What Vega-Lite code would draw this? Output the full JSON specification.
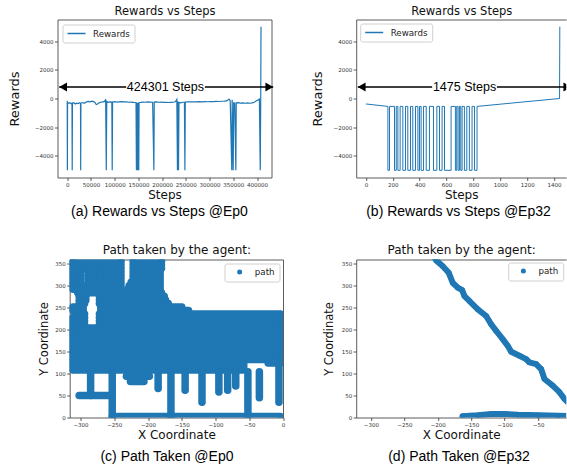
{
"$schema": "https://vega.github.io/schema/vega-lite/v6.json",
"background": "white",
"autosize": {"type": "pad"},
"padding": {"left": 8.5, "top": 5.5, "right": 0, "bottom": 0},
"columns": 2,
"bounds": "flush",
"spacing": {"row": 82, "column": 72.7},
"resolve": {"scale": {"color": "independent"}, "legend": {"color": "independent"}},
"datasets": {
"ra": [
{"step":0,"reward":-150},{"step":300,"reward":-5000},{"step":700,"reward":-280},{"step":3000,"reward":-330},{"step":5500,"reward":-290},{"step":8000,"reward":-360},{"step":10000,"reward":-320},{"step":10500,"reward":-5000},{"step":11000,"reward":-340},{"step":14000,"reward":-300},{"step":17000,"reward":-380},{"step":20000,"reward":-330},{"step":23000,"reward":-360},{"step":26000,"reward":-300},{"step":28000,"reward":-340},{"step":28400,"reward":-5000},{"step":28800,"reward":-320},{"step":32000,"reward":-280},{"step":36000,"reward":-330},{"step":40000,"reward":-250},{"step":44000,"reward":-200},{"step":48000,"reward":-230},{"step":52000,"reward":-180},{"step":56000,"reward":-220},{"step":59000,"reward":-300},{"step":61000,"reward":-420},{"step":64000,"reward":-380},{"step":67000,"reward":-300},{"step":71000,"reward":-260},{"step":75000,"reward":-230},{"step":79000,"reward":-200},{"step":81000,"reward":-60},{"step":82300,"reward":-5000},{"step":83300,"reward":-200},{"step":86000,"reward":-260},{"step":90000,"reward":-230},{"step":94000,"reward":-250},{"step":94800,"reward":-5000},{"step":95600,"reward":-240},{"step":100000,"reward":-220},{"step":105000,"reward":-250},{"step":110000,"reward":-230},{"step":115000,"reward":-220},{"step":120000,"reward":-240},{"step":125000,"reward":-230},{"step":130000,"reward":-260},{"step":135000,"reward":-250},{"step":140000,"reward":-270},{"step":145000,"reward":-280},{"step":145800,"reward":-5000},{"step":146600,"reward":-300},{"step":147200,"reward":-5000},{"step":147800,"reward":-290},{"step":148400,"reward":-5000},{"step":149000,"reward":-300},{"step":149600,"reward":-5000},{"step":150200,"reward":-290},{"step":150800,"reward":-5000},{"step":151400,"reward":-280},{"step":155000,"reward":-270},{"step":160000,"reward":-250},{"step":165000,"reward":-260},{"step":170000,"reward":-240},{"step":175000,"reward":-250},{"step":180000,"reward":-260},{"step":182600,"reward":-5000},{"step":183400,"reward":-250},{"step":188000,"reward":-240},{"step":193000,"reward":-260},{"step":198000,"reward":-250},{"step":203000,"reward":-270},{"step":208000,"reward":-260},{"step":213000,"reward":-280},{"step":218000,"reward":-270},{"step":223000,"reward":-260},{"step":228000,"reward":-230},{"step":231000,"reward":-60},{"step":232300,"reward":-5000},{"step":233300,"reward":-200},{"step":234500,"reward":-5000},{"step":235500,"reward":-280},{"step":239000,"reward":-300},{"step":243000,"reward":-260},{"step":247000,"reward":-250},{"step":248000,"reward":-5000},{"step":248800,"reward":-240},{"step":254000,"reward":-230},{"step":260000,"reward":-240},{"step":266000,"reward":-225},{"step":272000,"reward":-235},{"step":278000,"reward":-220},{"step":284000,"reward":-230},{"step":290000,"reward":-215},{"step":296000,"reward":-225},{"step":302000,"reward":-210},{"step":308000,"reward":-220},{"step":314000,"reward":-200},{"step":320000,"reward":-210},{"step":326000,"reward":-190},{"step":332000,"reward":-180},{"step":337000,"reward":-150},{"step":341000,"reward":-40},{"step":343500,"reward":-150},{"step":346800,"reward":-5000},{"step":347600,"reward":-80},{"step":349800,"reward":-5000},{"step":350800,"reward":-300},{"step":353000,"reward":-320},{"step":355400,"reward":-5000},{"step":356200,"reward":-300},{"step":360000,"reward":-290},{"step":365000,"reward":-320},{"step":370000,"reward":-300},{"step":375000,"reward":-330},{"step":380000,"reward":-310},{"step":385000,"reward":-330},{"step":390000,"reward":-300},{"step":394000,"reward":-260},{"step":398000,"reward":-180},{"step":402000,"reward":-100},{"step":405000,"reward":-40},{"step":406800,"reward":-5000},{"step":407800,"reward":-30},{"step":408400,"reward":5000}
],
"rb": [
{"i":0,"step":0,"reward":-380},{"i":1,"step":164,"reward":-550},{"i":2,"step":164,"reward":-5000},{"i":3,"step":176,"reward":-5000},{"i":4,"step":176,"reward":-550},{"i":5,"step":213,"reward":-550},{"i":6,"step":213,"reward":-5000},{"i":7,"step":226,"reward":-5000},{"i":8,"step":226,"reward":-550},{"i":9,"step":238,"reward":-550},{"i":10,"step":238,"reward":-5000},{"i":11,"step":255,"reward":-5000},{"i":12,"step":255,"reward":-550},{"i":13,"step":275,"reward":-550},{"i":14,"step":275,"reward":-5000},{"i":15,"step":295,"reward":-5000},{"i":16,"step":295,"reward":-550},{"i":17,"step":312,"reward":-550},{"i":18,"step":312,"reward":-5000},{"i":19,"step":332,"reward":-5000},{"i":20,"step":332,"reward":-550},{"i":21,"step":349,"reward":-550},{"i":22,"step":349,"reward":-5000},{"i":23,"step":369,"reward":-5000},{"i":24,"step":369,"reward":-550},{"i":25,"step":387,"reward":-550},{"i":26,"step":387,"reward":-5000},{"i":27,"step":399,"reward":-5000},{"i":28,"step":399,"reward":-550},{"i":29,"step":411,"reward":-550},{"i":30,"step":411,"reward":-5000},{"i":31,"step":429,"reward":-5000},{"i":32,"step":429,"reward":-550},{"i":33,"step":449,"reward":-550},{"i":34,"step":449,"reward":-5000},{"i":35,"step":473,"reward":-5000},{"i":36,"step":473,"reward":-550},{"i":37,"step":503,"reward":-550},{"i":38,"step":503,"reward":-5000},{"i":39,"step":528,"reward":-5000},{"i":40,"step":528,"reward":-550},{"i":41,"step":548,"reward":-550},{"i":42,"step":548,"reward":-5000},{"i":43,"step":567,"reward":-5000},{"i":44,"step":567,"reward":-550},{"i":45,"step":585,"reward":-550},{"i":46,"step":585,"reward":-5000},{"i":47,"step":634,"reward":-5000},{"i":48,"step":634,"reward":-550},{"i":49,"step":666,"reward":-550},{"i":50,"step":666,"reward":-5000},{"i":51,"step":676,"reward":-5000},{"i":52,"step":676,"reward":-550},{"i":53,"step":686,"reward":-550},{"i":54,"step":686,"reward":-5000},{"i":55,"step":696,"reward":-5000},{"i":56,"step":696,"reward":-550},{"i":57,"step":706,"reward":-550},{"i":58,"step":706,"reward":-5000},{"i":59,"step":716,"reward":-5000},{"i":60,"step":716,"reward":-550},{"i":61,"step":733,"reward":-550},{"i":62,"step":733,"reward":-5000},{"i":63,"step":751,"reward":-5000},{"i":64,"step":751,"reward":-550},{"i":65,"step":770,"reward":-550},{"i":66,"step":770,"reward":-5000},{"i":67,"step":790,"reward":-5000},{"i":68,"step":790,"reward":-550},{"i":69,"step":808,"reward":-550},{"i":70,"step":808,"reward":-5000},{"i":71,"step":827,"reward":-5000},{"i":72,"step":827,"reward":-550},{"i":73,"step":1441,"reward":0},{"i":74,"step":1443,"reward":5000}
],
"arA": [{"x0":-16900,"g0":124200,"g1":290100,"x1":434100,"mid":207000,"label":"424301 Steps","y":800}],
"arB": [{"x0":-60,"g0":493,"g1":975,"x1":1528,"mid":734,"label":"1475 Steps","y":800}],
"pc": [
{"s":1,"i":0,"x":-311,"y":356},{"s":1,"i":1,"x":-240,"y":356},
{"s":2,"i":0,"x":-222,"y":356},{"s":2,"i":1,"x":-180,"y":356},
{"s":3,"i":0,"x":-311,"y":348},{"s":3,"i":1,"x":-240,"y":348},
{"s":4,"i":0,"x":-222,"y":348},{"s":4,"i":1,"x":-180,"y":348},
{"s":5,"i":0,"x":-311,"y":340},{"s":5,"i":1,"x":-240,"y":340},
{"s":6,"i":0,"x":-222,"y":340},{"s":6,"i":1,"x":-180,"y":340},
{"s":7,"i":0,"x":-311,"y":332},{"s":7,"i":1,"x":-300,"y":332},
{"s":8,"i":0,"x":-289,"y":332},{"s":8,"i":1,"x":-272,"y":332},
{"s":9,"i":0,"x":-262,"y":332},{"s":9,"i":1,"x":-240,"y":332},
{"s":10,"i":0,"x":-222,"y":332},{"s":10,"i":1,"x":-182,"y":332},
{"s":11,"i":0,"x":-311,"y":324},{"s":11,"i":1,"x":-300,"y":324},
{"s":12,"i":0,"x":-289,"y":324},{"s":12,"i":1,"x":-272,"y":324},
{"s":13,"i":0,"x":-262,"y":324},{"s":13,"i":1,"x":-240,"y":324},
{"s":14,"i":0,"x":-222,"y":324},{"s":14,"i":1,"x":-182,"y":324},
{"s":15,"i":0,"x":-311,"y":316},{"s":15,"i":1,"x":-300,"y":316},
{"s":16,"i":0,"x":-289,"y":316},{"s":16,"i":1,"x":-272,"y":316},
{"s":17,"i":0,"x":-262,"y":316},{"s":17,"i":1,"x":-240,"y":316},
{"s":18,"i":0,"x":-222,"y":316},{"s":18,"i":1,"x":-182,"y":316},
{"s":19,"i":0,"x":-311,"y":308},{"s":19,"i":1,"x":-300,"y":308},
{"s":20,"i":0,"x":-289,"y":308},{"s":20,"i":1,"x":-240,"y":308},
{"s":21,"i":0,"x":-225,"y":308},{"s":21,"i":1,"x":-182,"y":308},
{"s":22,"i":0,"x":-311,"y":300},{"s":22,"i":1,"x":-240,"y":300},
{"s":23,"i":0,"x":-228,"y":300},{"s":23,"i":1,"x":-182,"y":300},
{"s":24,"i":0,"x":-311,"y":292},{"s":24,"i":1,"x":-240,"y":292},
{"s":25,"i":0,"x":-230,"y":292},{"s":25,"i":1,"x":-182,"y":292},
{"s":26,"i":0,"x":-304,"y":284},{"s":26,"i":1,"x":-240,"y":284},
{"s":27,"i":0,"x":-232,"y":284},{"s":27,"i":1,"x":-180,"y":284},
{"s":28,"i":0,"x":-302,"y":276},{"s":28,"i":1,"x":-292,"y":276},
{"s":29,"i":0,"x":-272,"y":276},{"s":29,"i":1,"x":-176,"y":276},
{"s":30,"i":0,"x":-302,"y":268},{"s":30,"i":1,"x":-292,"y":268},
{"s":31,"i":0,"x":-272,"y":268},{"s":31,"i":1,"x":-174,"y":268},
{"s":32,"i":0,"x":-302,"y":260},{"s":32,"i":1,"x":-294,"y":260},
{"s":33,"i":0,"x":-272,"y":260},{"s":33,"i":1,"x":-170,"y":260},
{"s":34,"i":0,"x":-311,"y":252},{"s":34,"i":1,"x":-296,"y":252},
{"s":35,"i":0,"x":-270,"y":252},{"s":35,"i":1,"x":-150,"y":252},
{"s":36,"i":0,"x":-311,"y":244},{"s":36,"i":1,"x":-296,"y":244},
{"s":37,"i":0,"x":-270,"y":244},{"s":37,"i":1,"x":-140,"y":244},
{"s":38,"i":0,"x":-302,"y":236},{"s":38,"i":1,"x":-294,"y":236},
{"s":39,"i":0,"x":-272,"y":236},{"s":39,"i":1,"x":-4,"y":236},
{"s":40,"i":0,"x":-311,"y":228},{"s":40,"i":1,"x":-294,"y":228},
{"s":41,"i":0,"x":-272,"y":228},{"s":41,"i":1,"x":-4,"y":228},
{"s":42,"i":0,"x":-311,"y":220},{"s":42,"i":1,"x":-294,"y":220},
{"s":43,"i":0,"x":-272,"y":220},{"s":43,"i":1,"x":-4,"y":220},
{"s":44,"i":0,"x":-311,"y":212},{"s":44,"i":1,"x":-294,"y":212},
{"s":45,"i":0,"x":-272,"y":212},{"s":45,"i":1,"x":-4,"y":212},
{"s":46,"i":0,"x":-311,"y":204},{"s":46,"i":1,"x":-4,"y":204},
{"s":47,"i":0,"x":-311,"y":196},{"s":47,"i":1,"x":-4,"y":196},
{"s":48,"i":0,"x":-311,"y":188},{"s":48,"i":1,"x":-4,"y":188},
{"s":49,"i":0,"x":-311,"y":180},{"s":49,"i":1,"x":-4,"y":180},
{"s":50,"i":0,"x":-311,"y":172},{"s":50,"i":1,"x":-4,"y":172},
{"s":51,"i":0,"x":-311,"y":164},{"s":51,"i":1,"x":-4,"y":164},
{"s":52,"i":0,"x":-311,"y":156},{"s":52,"i":1,"x":-4,"y":156},
{"s":53,"i":0,"x":-311,"y":148},{"s":53,"i":1,"x":-4,"y":148},
{"s":54,"i":0,"x":-311,"y":140},{"s":54,"i":1,"x":-4,"y":140},
{"s":55,"i":0,"x":-311,"y":132},{"s":55,"i":1,"x":-4,"y":132},
{"s":56,"i":0,"x":-311,"y":124},{"s":56,"i":1,"x":-58,"y":124},
{"s":57,"i":0,"x":-22,"y":124},{"s":57,"i":1,"x":-4,"y":124},
{"s":58,"i":0,"x":-311,"y":116},{"s":58,"i":1,"x":-58,"y":116},
{"s":59,"i":0,"x":-311,"y":108},{"s":59,"i":1,"x":-60,"y":108},
{"s":60,"i":0,"x":-302,"y":50},{"s":60,"i":1,"x":-258,"y":50},
{"s":61,"i":0,"x":-285,"y":104},{"s":61,"i":1,"x":-285,"y":50},
{"s":62,"i":0,"x":-253,"y":104},{"s":62,"i":1,"x":-253,"y":2},
{"s":63,"i":0,"x":-253,"y":2},{"s":63,"i":1,"x":-4,"y":2},
{"s":64,"i":0,"x":-166,"y":104},{"s":64,"i":1,"x":-166,"y":2},
{"s":65,"i":0,"x":-232,"y":94},{"s":65,"i":1,"x":-198,"y":94},
{"s":66,"i":0,"x":-226,"y":82},{"s":66,"i":1,"x":-206,"y":82},
{"s":67,"i":0,"x":-185,"y":104},{"s":67,"i":1,"x":-185,"y":66},
{"s":68,"i":0,"x":-145,"y":104},{"s":68,"i":1,"x":-145,"y":62},
{"s":69,"i":0,"x":-120,"y":104},{"s":69,"i":1,"x":-120,"y":35},
{"s":70,"i":0,"x":-95,"y":104},{"s":70,"i":1,"x":-95,"y":58},
{"s":71,"i":0,"x":-82,"y":104},{"s":71,"i":1,"x":-82,"y":62},
{"s":72,"i":0,"x":-52,"y":104},{"s":72,"i":1,"x":-52,"y":2},
{"s":73,"i":0,"x":-35,"y":104},{"s":73,"i":1,"x":-35,"y":45},
{"s":74,"i":0,"x":-6,"y":116},{"s":74,"i":1,"x":-6,"y":35},
{"s":75,"i":0,"x":-70,"y":104},{"s":75,"i":1,"x":-70,"y":72}
],
"pd": [
{"s":1,"i":0,"x":-205,"y":365},{"s":1,"i":1,"x":-202.4,"y":358},{"s":1,"i":2,"x":-192.5,"y":344.7},{"s":1,"i":3,"x":-183.6,"y":329.7},{"s":1,"i":4,"x":-177.6,"y":307},{"s":1,"i":5,"x":-170.1,"y":295.7},{"s":1,"i":6,"x":-163.6,"y":290.3},{"s":1,"i":7,"x":-160.1,"y":276.6},{"s":1,"i":8,"x":-152.6,"y":265.3},{"s":1,"i":9,"x":-140.2,"y":246.5},{"s":1,"i":10,"x":-127.7,"y":231.3},{"s":1,"i":11,"x":-120.2,"y":212.5},{"s":1,"i":12,"x":-112.7,"y":197.3},{"s":1,"i":13,"x":-102.9,"y":178.5},{"s":1,"i":14,"x":-95.4,"y":163.3},{"s":1,"i":15,"x":-90.3,"y":149.7},{"s":1,"i":16,"x":-77.9,"y":140.6},{"s":1,"i":17,"x":-67.9,"y":133.1},{"s":1,"i":18,"x":-63,"y":125.6},{"s":1,"i":19,"x":-52.9,"y":121.8},{"s":1,"i":20,"x":-45.5,"y":110.4},{"s":1,"i":21,"x":-40.5,"y":87.8},{"s":1,"i":22,"x":-28.1,"y":72.6},{"s":1,"i":23,"x":-18.1,"y":57.6},{"s":1,"i":24,"x":-10.6,"y":42.4},{"s":1,"i":25,"x":-5.7,"y":34.9},{"s":1,"i":26,"x":2,"y":30},
{"s":2,"i":0,"x":-163,"y":3},{"s":2,"i":1,"x":-140,"y":5},{"s":2,"i":2,"x":-120,"y":8},{"s":2,"i":3,"x":-100,"y":8},{"s":2,"i":4,"x":-80,"y":6},{"s":2,"i":5,"x":-50,"y":5},{"s":2,"i":6,"x":-20,"y":4},{"s":2,"i":7,"x":0,"y":3}
]
},
"concat": [
{
"width": 214, "height": 158,
"title": {"text": "(a) Rewards vs Steps @Ep0", "orient": "bottom", "anchor": "middle", "frame": "group", "dx": -5, "offset": 4},
"resolve": {"axis": {"x": "independent", "y": "independent"}},
"layer": [
{"data": {"name": "ra"},
 "mark": {"type": "line", "strokeWidth": 1.2, "clip": true},
 "encoding": {
  "x": {"field": "step", "type": "quantitative", "scale": {"domain": [-20500, 430500], "nice": false, "zero": false},
        "axis": {"orient": "bottom", "values": [0,50000,100000,150000,200000,250000,300000,350000,400000], "format": "d", "title": "Steps", "titleFontSize": 12, "titlePadding": 2, "labelFlush": false, "labelOverlap": false}},
  "y": {"field": "reward", "type": "quantitative", "scale": {"domain": [-5500, 5500], "nice": false, "zero": false},
        "axis": {"orient": "left", "values": [-4000,-2000,0,2000,4000], "format": "d", "title": "Rewards", "titleFontSize": 13, "titlePadding": 12.5}},
  "color": {"datum": "Rewards", "scale": {"range": ["#1f77b4"]},
        "legend": {"title": null, "orient": "top-left", "offset": 4.5, "padding": 4, "symbolType": "stroke", "symbolSize": 324, "symbolStrokeWidth": 1.5, "clipHeight": 10, "labelOffset": 6.5, "labelFontSize": 8.7, "strokeColor": "#d0d0d0", "fillColor": "#ffffff", "cornerRadius": 2}}
 }},
{"data": {"name": "arA"},
 "mark": {"type": "rule", "color": "#000", "strokeWidth": 1.5, "clip": false},
 "encoding": {
  "x": {"field": "x0", "type": "quantitative", "axis": {"orient": "top", "labels": false, "ticks": false, "title": "Rewards vs Steps", "titleFontSize": 11.5, "titlePadding": 3}},
  "x2": {"field": "g0"},
  "y": {"field": "y", "type": "quantitative", "axis": {"orient": "right", "labels": false, "ticks": false, "title": null}}
 }},
{"data": {"name": "arA"},
 "mark": {"type": "rule", "color": "#000", "strokeWidth": 1.5, "clip": false},
 "encoding": {
  "x": {"field": "g1", "type": "quantitative", "axis": null},
  "x2": {"field": "x1"},
  "y": {"field": "y", "type": "quantitative", "axis": null}
 }},
{"data": {"name": "arA"},
 "mark": {"type": "point", "shape": "triangle-left", "filled": true, "color": "#000", "opacity": 1, "size": 80, "xOffset": 3.9, "clip": false},
 "encoding": {
  "x": {"field": "x0", "type": "quantitative", "axis": null},
  "y": {"field": "y", "type": "quantitative", "axis": null}
 }},
{"data": {"name": "arA"},
 "mark": {"type": "point", "shape": "triangle-right", "filled": true, "color": "#000", "opacity": 1, "size": 80, "xOffset": -3.9, "clip": false},
 "encoding": {
  "x": {"field": "x1", "type": "quantitative", "axis": null},
  "y": {"field": "y", "type": "quantitative", "axis": null}
 }},
{"data": {"name": "arA"},
 "mark": {"type": "text", "font": "Liberation Sans", "fontSize": 12.5, "color": "#000", "baseline": "middle", "align": "center"},
 "encoding": {
  "x": {"field": "mid", "type": "quantitative", "axis": null},
  "y": {"field": "y", "type": "quantitative", "axis": null},
  "text": {"field": "label"}
 }}
]
},
{
"width": 210, "height": 158,
"title": {"text": "(b) Rewards vs Steps @Ep32", "orient": "bottom", "anchor": "middle", "frame": "group", "dx": -2.7, "offset": 4},
"resolve": {"axis": {"x": "independent", "y": "independent"}},
"layer": [
{"data": {"name": "rb"},
 "mark": {"type": "line", "strokeWidth": 1, "clip": true},
 "encoding": {
  "x": {"field": "step", "type": "quantitative", "scale": {"domain": [-72, 1490.5], "nice": false, "zero": false},
        "axis": {"orient": "bottom", "values": [0,200,400,600,800,1000,1200,1400], "format": "d", "title": "Steps", "titleFontSize": 12, "titlePadding": 2, "labelFlush": false, "labelOverlap": false}},
  "y": {"field": "reward", "type": "quantitative", "scale": {"domain": [-5500, 5500], "nice": false, "zero": false},
        "axis": {"orient": "left", "values": [-4000,-2000,0,2000,4000], "format": "d", "title": "Rewards", "titleFontSize": 13, "titlePadding": 8.5}},
  "order": {"field": "i", "type": "quantitative"},
  "color": {"datum": "Rewards", "scale": {"range": ["#1f77b4"]},
        "legend": {"title": null, "orient": "top-left", "offset": 4, "padding": 4, "symbolType": "stroke", "symbolSize": 324, "symbolStrokeWidth": 1.5, "clipHeight": 10, "labelOffset": 6.5, "labelFontSize": 8.7, "strokeColor": "#d0d0d0", "fillColor": "#ffffff", "cornerRadius": 2}}
 }},
{"data": {"name": "arB"},
 "mark": {"type": "rule", "color": "#000", "strokeWidth": 1.5, "clip": true},
 "encoding": {
  "x": {"field": "x0", "type": "quantitative", "axis": {"orient": "top", "labels": false, "ticks": false, "title": "Rewards vs Steps", "titleFontSize": 11.5, "titlePadding": 3}},
  "x2": {"field": "g0"},
  "y": {"field": "y", "type": "quantitative", "axis": null}
 }},
{"data": {"name": "arB"},
 "mark": {"type": "rule", "color": "#000", "strokeWidth": 1.5, "clip": true},
 "encoding": {
  "x": {"field": "g1", "type": "quantitative", "axis": null},
  "x2": {"field": "x1"},
  "y": {"field": "y", "type": "quantitative", "axis": null}
 }},
{"data": {"name": "arB"},
 "mark": {"type": "point", "shape": "triangle-left", "filled": true, "color": "#000", "opacity": 1, "size": 80, "xOffset": 3.9, "clip": true},
 "encoding": {
  "x": {"field": "x0", "type": "quantitative", "axis": null},
  "y": {"field": "y", "type": "quantitative", "axis": null}
 }},
{"data": {"name": "arB"},
 "mark": {"type": "point", "shape": "triangle-right", "filled": true, "color": "#000", "opacity": 1, "size": 80, "xOffset": -3.9, "clip": true},
 "encoding": {
  "x": {"field": "x1", "type": "quantitative", "axis": null},
  "y": {"field": "y", "type": "quantitative", "axis": null}
 }},
{"data": {"name": "arB"},
 "mark": {"type": "text", "font": "Liberation Sans", "fontSize": 12.5, "color": "#000", "baseline": "middle", "align": "center"},
 "encoding": {
  "x": {"field": "mid", "type": "quantitative", "axis": null},
  "y": {"field": "y", "type": "quantitative", "axis": null},
  "text": {"field": "label"}
 }}
]
},
{
"width": 225.5, "height": 158,
"title": {"text": "(c) Path Taken @Ep0", "orient": "bottom", "anchor": "middle", "frame": "group", "dx": -3.3, "offset": 9},
"resolve": {"axis": {"x": "independent", "y": "independent"}},
"layer": [
{"data": {"name": "pc"},
 "mark": {"type": "line", "color": "#1f77b4", "strokeWidth": 7.5, "strokeCap": "round", "strokeJoin": "round", "opacity": 1, "clip": true},
 "encoding": {
  "x": {"field": "x", "type": "quantitative", "scale": {"domain": [-316, 0], "range": [12.2, 225.5], "nice": false, "zero": false},
        "axis": {"orient": "bottom", "values": [-300,-250,-200,-150,-100,-50,0], "title": "X Coordinate", "titleFontSize": 12, "titlePadding": 2, "labelFlush": false, "labelOverlap": false}},
  "y": {"field": "y", "type": "quantitative", "scale": {"domain": [0, 360], "nice": false, "zero": false},
        "axis": {"orient": "left", "offset": -12.2, "values": [0,50,100,150,200,250,300,350], "title": "Y Coordinate", "titleFontSize": 11.5, "titlePadding": 5}},
  "detail": {"field": "s", "type": "nominal"},
  "order": {"field": "i", "type": "quantitative"}
 }},
{"data": {"name": "pc"},
 "mark": {"type": "point", "filled": true, "size": 40, "opacity": 1, "clip": true},
 "encoding": {
  "x": {"field": "x", "type": "quantitative", "axis": {"orient": "top", "labels": false, "ticks": false, "title": "Path taken by the agent:", "titleFontSize": 12, "titlePadding": 3}},
  "y": {"field": "y", "type": "quantitative", "axis": {"orient": "right", "labels": false, "ticks": false, "title": null}},
  "color": {"datum": "path", "scale": {"range": ["#1f77b4"]},
        "legend": {"title": null, "orient": "top-right", "offset": 4, "padding": 4, "symbolType": "circle", "symbolSize": 25, "symbolStrokeWidth": 0, "symbolOffset": 6.8, "labelOffset": 10.8, "clipHeight": 9, "labelFontSize": 8.7, "strokeColor": "#d0d0d0", "fillColor": "#ffffff", "cornerRadius": 2}}
 }}
]
},
{
"width": 210, "height": 158,
"title": {"text": "(d) Path Taken @Ep32", "orient": "bottom", "anchor": "middle", "frame": "group", "dx": -2.2, "offset": 9},
"resolve": {"axis": {"x": "independent", "y": "independent"}},
"layer": [
{"data": {"name": "pd"},
 "mark": {"type": "line", "color": "#1f77b4", "strokeWidth": 6, "strokeCap": "round", "strokeJoin": "round", "opacity": 1, "clip": true},
 "encoding": {
  "x": {"field": "x", "type": "quantitative", "scale": {"domain": [-322, -8], "nice": false, "zero": false},
        "axis": {"orient": "bottom", "values": [-300,-250,-200,-150,-100,-50], "title": "X Coordinate", "titleFontSize": 12, "titlePadding": 2, "labelFlush": false, "labelOverlap": false}},
  "y": {"field": "y", "type": "quantitative", "scale": {"domain": [0, 360], "nice": false, "zero": false},
        "axis": {"orient": "left", "values": [0,50,100,150,200,250,300,350], "title": "Y Coordinate", "titleFontSize": 11.5, "titlePadding": 7}},
  "detail": {"field": "s", "type": "nominal"},
  "order": {"field": "i", "type": "quantitative"}
 }},
{"data": {"name": "pd"},
 "mark": {"type": "point", "filled": true, "size": 30, "opacity": 1, "clip": true},
 "encoding": {
  "x": {"field": "x", "type": "quantitative", "axis": {"orient": "top", "labels": false, "ticks": false, "title": "Path taken by the agent:", "titleFontSize": 12, "titlePadding": 3}},
  "y": {"field": "y", "type": "quantitative", "axis": null},
  "color": {"datum": "path", "scale": {"range": ["#1f77b4"]},
        "legend": {"title": null, "orient": "top-right", "offset": 3, "padding": 4, "symbolType": "circle", "symbolSize": 25, "symbolStrokeWidth": 0, "symbolOffset": 6.8, "labelOffset": 10.8, "clipHeight": 9, "labelFontSize": 8.7, "strokeColor": "#d0d0d0", "fillColor": "#ffffff", "cornerRadius": 2}}
 }}
]
}
],
"config": {
 "view": {"stroke": null},
 "axis": {"grid": false, "labelFont": "DejaVu Sans", "labelFontSize": 5.5, "labelColor": "#333", "tickColor": "#333", "tickSize": 3, "tickWidth": 0.8, "domainColor": "#333", "domainWidth": 0.8, "labelPadding": 1.5, "titleFont": "DejaVu Sans", "titleFontWeight": "normal", "titleColor": "#111"},
 "legend": {"labelFont": "DejaVu Sans", "labelColor": "#222"},
 "title": {"font": "Liberation Sans", "fontSize": 14, "fontWeight": "normal", "color": "#000"}
}
}
